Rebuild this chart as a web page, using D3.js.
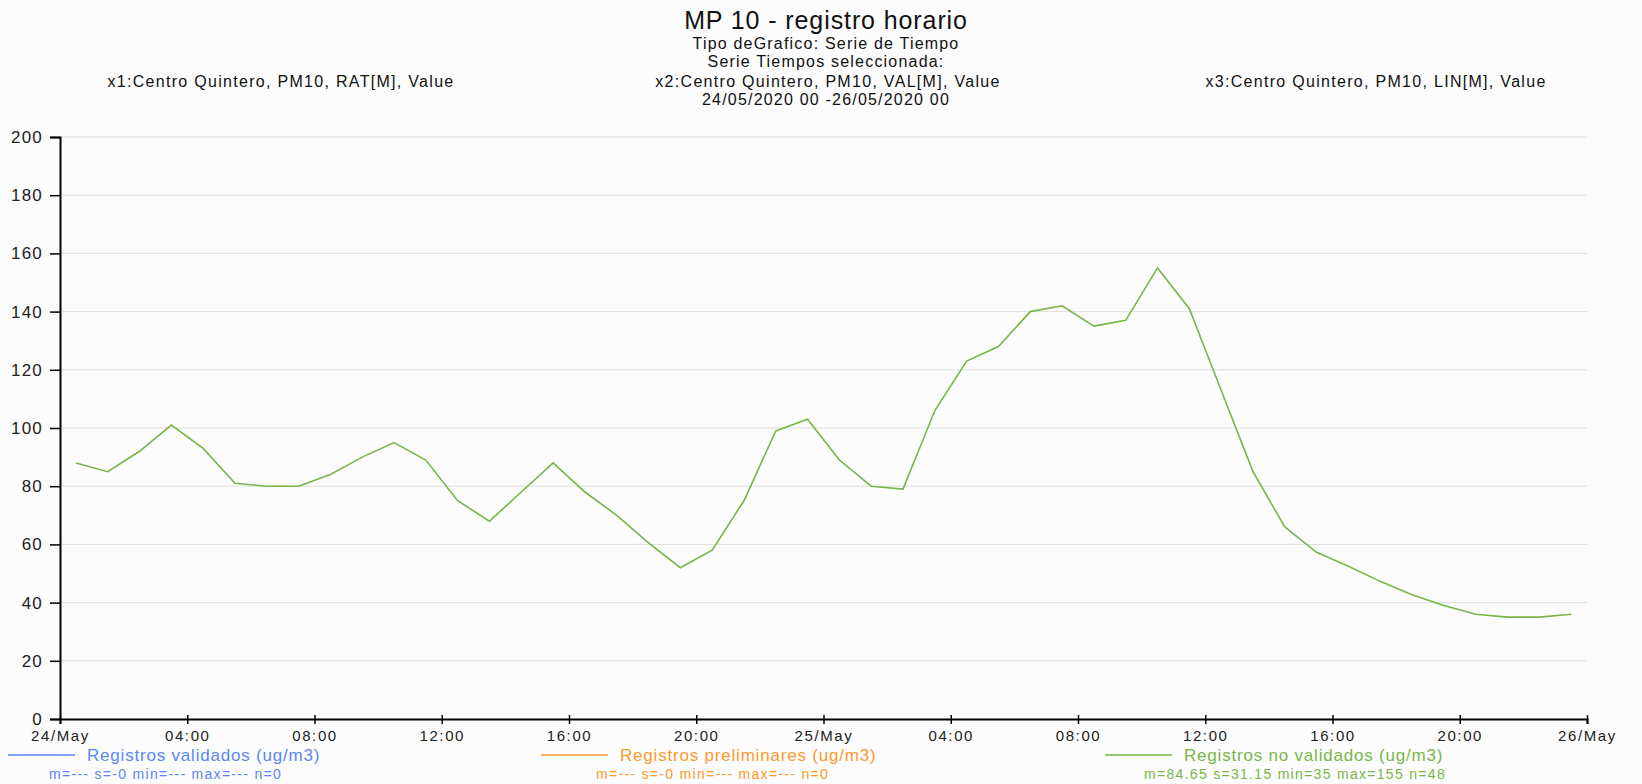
<!DOCTYPE html>
<html>
<head>
<meta charset="utf-8">
<script src="https://cdn.jsdelivr.net/npm/d3@7"></script>
<style>
  body { margin: 0; background: #fbfcfb; }
  svg { display: block; font-family: "Liberation Sans", Arial, sans-serif; }
</style>
</head>
<body>
<div id="chart"></div>
<script>
// datos: MP10 horario Centro Quintero, 24/05/2020 00 - 26/05/2020 00
var inicio = new Date(Date.UTC(2020, 4, 24, 0, 0));
var fin = new Date(Date.UTC(2020, 4, 26, 0, 0));

var noValidados = [88, 85, 92, 101, 93, 81, 80, 80, 84, 90, 95, 89,
  75, 68, 78, 88, 78, 70, 60.5, 52, 58, 75, 99, 103,
  89, 80, 79, 106, 123, 128, 140, 142, 135, 137, 155, 141,
  113, 85, 66, 57.3, 52.5, 47.3, 42.7, 39, 36, 35, 35, 36];
var validados = [];
var preliminares = [];

var yTicks = [0, 20, 40, 60, 80, 100, 120, 140, 160, 180, 200];

var titulo = "MP 10 - registro horario";
var subtitulos = ["Tipo deGrafico: Serie de Tiempo", "Serie Tiempos seleccionada:"];
var seriesX = ["x1:Centro Quintero, PM10, RAT[M], Value",
  "x2:Centro Quintero, PM10, VAL[M], Value",
  "x3:Centro Quintero, PM10, LIN[M], Value"];
var rango = "24/05/2020 00 -26/05/2020 00";

var leyendaNombres = ["Registros validados (ug/m3)", "Registros preliminares (ug/m3)", "Registros no validados (ug/m3)"];
var leyendaStats = ["m=--- s=-0 min=--- max=--- n=0", "m=--- s=-0 min=--- max=--- n=0", "m=84.65 s=31.15 min=35 max=155 n=48"];
var leyendaColores = ["#5b86f5", "#fb9a2c", "#79b54a"];

var svgWidth = 1642;
var svgHeight = 784;
var margin = {top: 137, right: 55, bottom: 65, left: 60};
var width = svgWidth - margin.left - margin.right;
var height = svgHeight - margin.top - margin.bottom;

var svg = d3.select("#chart").append("svg")
  .attr("width", svgWidth)
  .attr("height", svgHeight);

svg.append("rect").attr("width", svgWidth).attr("height", svgHeight).attr("fill", "#fbfcfb");

var chartGroup = svg.append("g")
  .attr("transform", `translate(${margin.left}, ${margin.top})`);

var x = d3.scaleUtc().domain([inicio, fin]).range([0, width]);
var y = d3.scaleLinear().domain([0, 200]).range([height, 0]);

// punto en la mitad de cada hora
var puntos = noValidados.map(function(v, i) {
  return {t: new Date(inicio.getTime() + (i + 0.5) * 3600000), v: v};
});

// grilla
chartGroup.selectAll(".grid")
  .data(yTicks.filter(d => d > 0))
  .enter()
  .append("line")
  .attr("x1", 0)
  .attr("x2", width)
  .attr("y1", d => y(d))
  .attr("y2", d => y(d))
  .attr("stroke", "#dedede")
  .attr("stroke-width", 1);

// ejes
var xTicks = d3.utcHour.every(4).range(inicio, new Date(fin.getTime() + 1));
var fmtDia = d3.utcFormat("%d/%b");
var fmtHora = d3.utcFormat("%H:%M");

var bottomAxis = d3.axisBottom(x)
  .tickValues(xTicks)
  .tickSize(5)
  .tickPadding(4)
  .tickFormat(d => d.getUTCHours() === 0 ? fmtDia(d) : fmtHora(d));

var leftAxis = d3.axisLeft(y)
  .tickValues(yTicks)
  .tickSize(10)
  .tickPadding(7);

var xAxis = chartGroup.append("g")
  .attr("transform", `translate(0, ${height})`)
  .call(bottomAxis);
xAxis.select(".domain").attr("stroke", "#000").attr("stroke-width", 2);
xAxis.selectAll(".tick line").attr("y1", -4).attr("stroke-width", 1.5);
xAxis.selectAll(".tick text")
  .attr("font-size", 15)
  .attr("letter-spacing", 1.6)
  .attr("fill", "#222")
  .attr("dy", "0.85em");

var yAxis = chartGroup.append("g").call(leftAxis);
yAxis.select(".domain").attr("stroke", "#000").attr("stroke-width", 2);
yAxis.selectAll(".tick line").attr("stroke-width", 1.5);
yAxis.selectAll(".tick text")
  .attr("font-size", 17)
  .attr("letter-spacing", 1.2)
  .attr("fill", "#222");

// serie
var linea = d3.line().x(d => x(d.t)).y(d => y(d.v));
chartGroup.append("path")
  .datum(puntos)
  .attr("d", linea)
  .attr("fill", "none")
  .attr("stroke", leyendaColores[2])
  .attr("stroke-width", 1.6);

// textos de cabecera
svg.append("text")
  .attr("x", 826).attr("y", 29)
  .attr("text-anchor", "middle")
  .attr("font-size", 25)
  .attr("letter-spacing", 0.9)
  .attr("fill", "#111")
  .text(titulo);

svg.selectAll(".sub")
  .data(subtitulos)
  .enter()
  .append("text")
  .attr("x", 826)
  .attr("y", (d, i) => 49 + i * 17.5)
  .attr("text-anchor", "middle")
  .attr("font-size", 16)
  .attr("letter-spacing", 1.2)
  .attr("fill", "#111")
  .text(d => d);

var seriesXPos = [281, 828, 1376];
svg.selectAll(".serx")
  .data(seriesX)
  .enter()
  .append("text")
  .attr("x", (d, i) => seriesXPos[i])
  .attr("y", 87)
  .attr("text-anchor", "middle")
  .attr("font-size", 16)
  .attr("letter-spacing", 1.3)
  .attr("fill", "#111")
  .text(d => d);

svg.append("text")
  .attr("x", 826).attr("y", 105)
  .attr("text-anchor", "middle")
  .attr("font-size", 16)
  .attr("letter-spacing", 1.2)
  .attr("fill", "#111")
  .text(rango);

// leyenda
var leyLineaX = [8, 541, 1105];
var leyStatsX = [49, 596, 1144];
var leyenda = svg.selectAll(".ley")
  .data(leyendaNombres)
  .enter()
  .append("g");

leyenda.append("line")
  .attr("x1", (d, i) => leyLineaX[i])
  .attr("x2", (d, i) => leyLineaX[i] + 67)
  .attr("y1", 755).attr("y2", 755)
  .attr("stroke", (d, i) => leyendaColores[i])
  .attr("stroke-width", 1.5);

leyenda.append("text")
  .attr("x", (d, i) => leyLineaX[i] + 79)
  .attr("y", 761)
  .attr("font-size", 17)
  .attr("letter-spacing", 0.8)
  .attr("fill", (d, i) => leyendaColores[i])
  .text(d => d);

leyenda.append("text")
  .attr("x", (d, i) => leyStatsX[i])
  .attr("y", 779)
  .attr("font-size", 14)
  .attr("letter-spacing", 1.3)
  .attr("fill", (d, i) => leyendaColores[i])
  .text((d, i) => leyendaStats[i]);
</script>
</body>
</html>
